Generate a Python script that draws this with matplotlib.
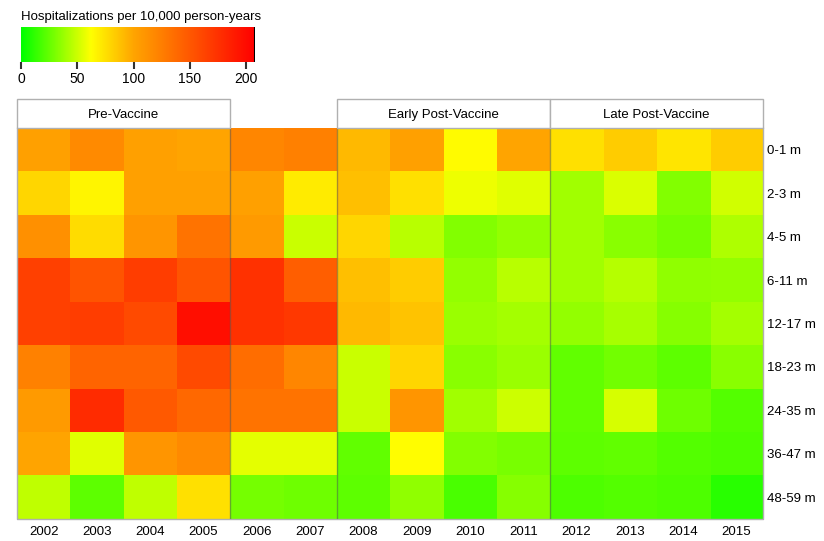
import matplotlib.pyplot as plt
import numpy as np
from matplotlib.colors import LinearSegmentedColormap
from matplotlib.patches import Rectangle

plt.rcParams['font.family'] = ['Liberation Sans', 'DejaVu Sans']

years = [str(y) for y in range(2002, 2016)]
ages = ['0-1 m', '2-3 m', '4-5 m', '6-11 m', '12-17 m', '18-23 m', '24-35 m', '36-47 m', '48-59 m']

# hospitalizations per 10,000 person-years, rows = age groups, cols = years
rate_0_1 = [103, 117, 103, 100, 120, 124, 91, 103, 64, 100, 75, 83, 73, 83]
rate_2_3 = [79, 66, 103, 103, 103, 70, 89, 75, 58, 55, 39, 53, 32, 51]
rate_4_5 = [113, 77, 110, 132, 107, 49, 79, 45, 32, 36, 39, 34, 29, 43]
rate_6_11 = [165, 152, 168, 152, 175, 146, 89, 83, 36, 45, 39, 44, 35, 36]
rate_12_17 = [165, 168, 159, 198, 175, 171, 91, 87, 38, 40, 36, 41, 33, 40]
rate_18_23 = [123, 142, 142, 159, 136, 120, 49, 79, 34, 38, 24, 28, 23, 34]
rate_24_35 = [107, 179, 149, 139, 132, 132, 49, 110, 39, 50, 24, 52, 27, 21]
rate_36_47 = [100, 55, 110, 117, 56, 56, 24, 63, 32, 30, 23, 24, 21, 19]
rate_48_59 = [47, 23, 47, 75, 29, 27, 23, 35, 18, 33, 19, 21, 19, 10]

periods = ['Pre-Vaccine', 'Early Post-Vaccine', 'Late Post-Vaccine']
period_start = [0, 6, 10]
period_end = [4, 10, 14]

vmax = 208
cmap = LinearSegmentedColormap.from_list('gyr', [
    (0.0, (0, 1, 0)),
    (62 / vmax, (1, 1, 0)),
    (100 / vmax, (1, 0.647, 0)),
    (1.0, (1, 0, 0)),
])

data = np.array([rate_0_1, rate_2_3, rate_4_5, rate_6_11, rate_12_17,
                 rate_18_23, rate_24_35, rate_36_47, rate_48_59])

fs = 9.5
W, H = 824, 541
fig = plt.figure(figsize=(W / 100, H / 100), dpi=100)

# heatmap
ax = fig.add_axes([17 / W, (H - 519) / H, (763 - 17) / W, (519 - 128) / H])
ax.imshow(data, cmap=cmap, vmin=0, vmax=vmax, aspect='auto', interpolation='nearest',
          extent=(0, 14, 9, 0))
ax.set_xlim(0, 14)
ax.set_ylim(9, 0)
ax.set_xticks(np.arange(14) + 0.5)
ax.set_xticklabels(years, fontsize=fs)
ax.set_yticks(np.arange(9) + 0.5)
ax.set_yticklabels(ages, fontsize=fs)
ax.yaxis.tick_right()
ax.tick_params(axis='x', length=0, pad=5)
ax.tick_params(axis='y', length=0, pad=3)
for s in ax.spines.values():
    s.set_visible(False)
ax.plot([0, 0, 14, 14], [0, 9, 9, 0], color='#b0b0b0', lw=1, clip_on=False)
for xb in [4, 6, 10]:
    ax.axvline(xb, color='#555555', lw=1, alpha=0.5)

# period header boxes
hx = fig.add_axes([17 / W, (H - 128) / H, (763 - 17) / W, (128 - 99) / H])
hx.set_xlim(0, 14)
hx.set_ylim(0, 1)
hx.axis('off')
for name, a, b in zip(periods, period_start, period_end):
    hx.add_patch(Rectangle((a, 0), b - a, 1, facecolor='white', edgecolor='#b0b0b0',
                           lw=1, clip_on=False))
    hx.text((a + b) / 2, 0.45, name, ha='center', va='center', fontsize=fs)

# colorbar
cx = fig.add_axes([21 / W, (H - 62) / H, (255 - 21) / W, (62 - 27) / H])
grad = np.linspace(0, vmax, 400)[None, :]
cx.imshow(grad, cmap=cmap, vmin=0, vmax=vmax, aspect='auto', extent=(0, vmax, 0, 1))
cx.axvline(vmax, color='black', lw=1.5)
cx.set_xlim(0, vmax)
cx.set_yticks([])
cx.set_xticks([0, 50, 100, 150, 200])
cx.tick_params(axis='x', labelsize=fs + 0.5, length=5, width=1.5, color='#333333', pad=2)
for s in cx.spines.values():
    s.set_visible(False)
cx.set_title('Hospitalizations per 10,000 person-years', fontsize=fs, loc='left', pad=5)

fig.savefig('out.png', dpi=100)
